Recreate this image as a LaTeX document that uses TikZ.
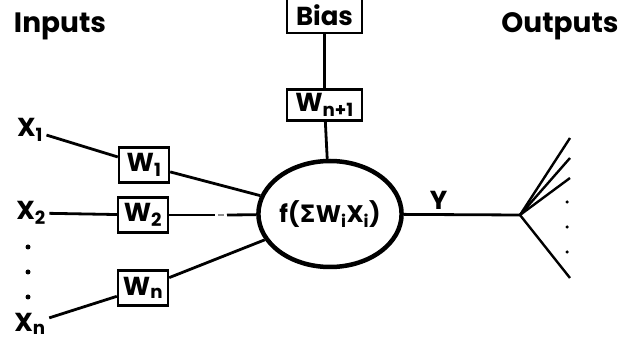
\documentclass[tikz,border=0pt]{standalone}
\usepackage{fontspec}
\setmainfont{Poppins}
\newfontfamily\greekfont{DejaVu Sans}
\usetikzlibrary{positioning,shapes.geometric}
\definecolor{ink}{HTML}{000000}
\tikzset{
  every node/.style={text=ink,font=\bfseries\fontsize{26}{26}\selectfont},
  heading/.style={font=\bfseries\fontsize{28}{28}\selectfont},
  wbox/.style={draw=ink,line width=2.4pt,minimum width=50pt,minimum height=35pt,inner sep=0pt},
  neuronbox/.style={draw=ink,ellipse,line width=4.5pt,minimum width=138pt,minimum height=106pt,inner sep=0pt,font=\bfseries\fontsize{24}{24}\selectfont},
  wire/.style={draw=ink,line width=2.8pt},
  faint/.style={draw=ink!45,line width=1.2pt},
  dotmark/.style={circle,fill=ink,inner sep=0pt,minimum size=5pt},
  smalldot/.style={circle,fill=ink,inner sep=0pt,minimum size=3.5pt},
}

\begin{document}
\begin{tikzpicture}[x=1pt,y=-1pt]
\useasboundingbox (0,0) rectangle (625,342);
% headings
\node[heading] (inputs) at (60,26) {Inputs};
\node[heading] (outputs) at (560,26) {Outputs};
% bias path
\node[wbox,minimum width=75pt,minimum height=36pt] (bias) at (324.5,15) {Bias};
\node[wbox,minimum width=75pt,minimum height=31pt,below=54pt of bias] (wb) {W\textsubscript{n+1}};
\node[neuronbox] (neuron) at (330,214) {f({\greekfont\bfseries Σ}W\textsubscript{i}X\textsubscript{i})};
% inputs and weights
\node (x1) at (30,130) {X\textsubscript{1}};
\node (x2) at (31,213) {X\textsubscript{2}};
\node (xn) at (30,324) {X\textsubscript{n}};
\node[wbox] (w1) at (144,165) {W\textsubscript{1}};
\node[wbox] (w2) at (143,215) {W\textsubscript{2}};
\node[wbox] (wn) at (143,288) {W\textsubscript{n}};
\foreach \y in {247,272,297} \node[dotmark] (ld\y) at (28,\y) {};
\coordinate (g1) at (215,215);
\coordinate (g2) at (227,215);
\draw[wire] (bias) -- (wb);
\draw[wire] (wb) -- (neuron);
\draw[wire] (x1) -- (w1);
\draw[wire] (w1) -- (neuron);
\draw[wire] (x2) -- (w2);
\draw[wire] (w2) -- (g1);
\draw[faint] (g1) ++(3,0) -- ++(6,0);
\draw[wire] (g2) -- (neuron);
\draw[wire] (xn) -- (wn);
\draw[wire] (wn) -- (neuron);
% output fan
\coordinate (fork) at (520,215);
\draw[wire] (neuron) -- (fork) node[pos=0.3,above=0pt] (y) {Y};
\foreach \y [count=\i] in {138,158,178,278} {
  \coordinate (o\i) at (570,\y);
  \draw[wire,line width=2.4pt] (fork) -- (o\i);
}
\foreach \y in {202,227,252} \node[smalldot] (rd\y) at (567,\y) {};
\end{tikzpicture}
\end{document}
